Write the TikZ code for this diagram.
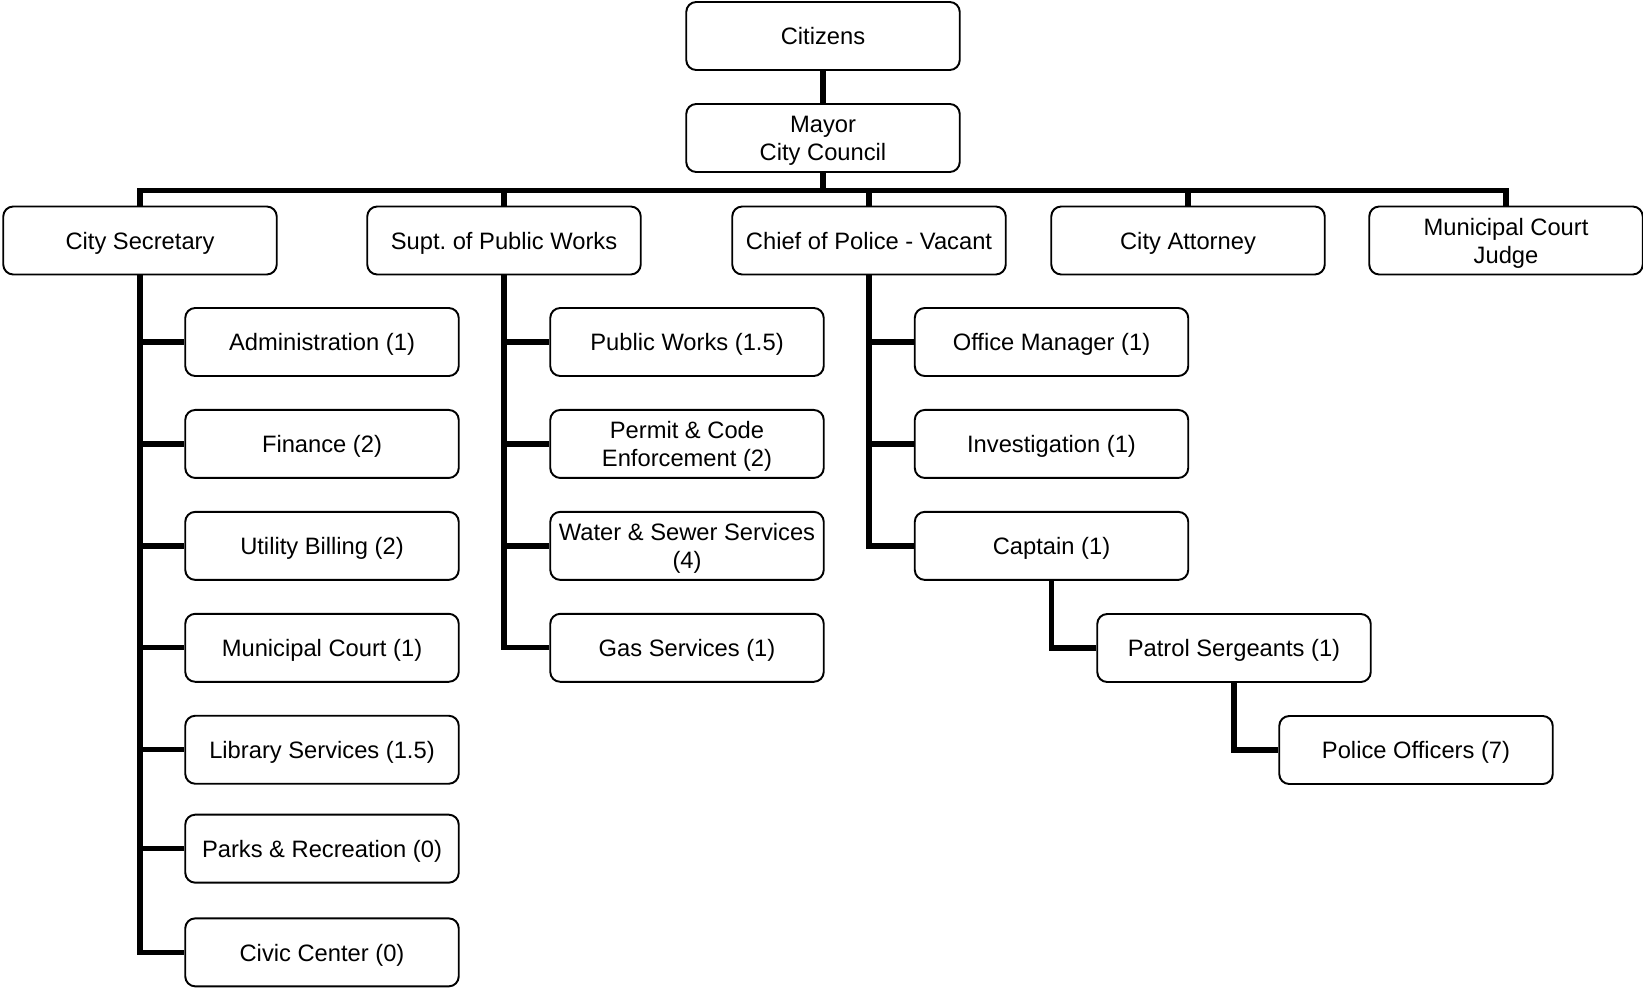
\documentclass[tikz,border=0pt]{standalone}
\usepackage{fontspec}
\setmainfont{Liberation Sans}
\usetikzlibrary{positioning}

\newcommand{\sr}{\rule[-0.21em]{0pt}{1.17em}}

\begin{document}
\begin{tikzpicture}[
  node distance=0.64cm,
  every node/.style={font=\fontsize{13.5}{16}\selectfont},
  unit/.style={rectangle, rounded corners=0.2cm, draw=black, line width=1.1pt, fill=white, minimum width=5.47cm, minimum height=1.36cm, inner sep=1pt, align=center, execute at begin node=\sr},
  link/.style={line width=3pt, black}
]
  \useasboundingbox (0,0) rectangle (32.86,-19.74);

  \node[unit] (cit) at (16.46,-0.72) {Citizens};
  \node[unit] (mayor) at (16.46,-2.76) {\sr Mayor\\City Council\sr};

  \node[unit] (sec) at (2.80,-4.81) {City Secretary};
  \node[unit] (supt) at (10.08,-4.81) {Supt.\ of Public Works};
  \node[unit] (chief) at (17.38,-4.81) {Chief of Police - Vacant};
  \node[unit] (atty) at (23.76,-4.81) {City Attorney};
  \node[unit] (judge) at (30.12,-4.81) {\sr Municipal Court\\Judge\sr};

  \node[unit] (adm) at (6.44,-6.84) {Administration (1)};
  \node[unit, below=of adm] (fin) {Finance (2)};
  \node[unit, below=of fin] (util) {Utility Billing (2)};
  \node[unit, below=of util] (court) {Municipal Court (1)};
  \node[unit, below=of court] (lib) {Library Services (1.5)};
  \node[unit, below=0.58cm of lib] (parks) {Parks \& Recreation (0)};
  \node[unit, below=0.675cm of parks] (civic) {Civic Center (0)};

  \node[unit] (pw) at (13.74,-6.84) {Public Works (1.5)};
  \node[unit, below=of pw] (code) {\sr Permit \& Code\\Enforcement (2)\sr};
  \node[unit, below=of code] (water) {\sr Water \& Sewer Services\\(4)\sr};
  \node[unit, below=of water] (gas) {Gas Services (1)};

  \node[unit] (office) at (21.03,-6.84) {Office Manager (1)};
  \node[unit, below=of office] (inv) {Investigation (1)};
  \node[unit, below=of inv] (capt) {Captain (1)};
  \node[unit] (sgt) at (24.68,-12.96) {Patrol Sergeants (1)};
  \node[unit] (ofc) at (28.32,-15.00) {Police Officers (7)};

  \draw[link] (cit) -- (mayor);
  \foreach \d in {sec,supt,chief,atty,judge}
    \draw[link] (mayor.south) -- ++(0,-0.345) -| (\d.north);

  \foreach \c in {adm,fin,util,court,lib,parks,civic}
    \draw[link] (sec.south) |- (\c.west);
  \foreach \c in {pw,code,water,gas}
    \draw[link] (supt.south) |- (\c.west);
  \foreach \c in {office,inv,capt}
    \draw[link] (chief.south) |- (\c.west);
  \draw[link] (capt.south) |- (sgt.west);
  \draw[link] (sgt.south) |- (ofc.west);
\end{tikzpicture}
\end{document}
